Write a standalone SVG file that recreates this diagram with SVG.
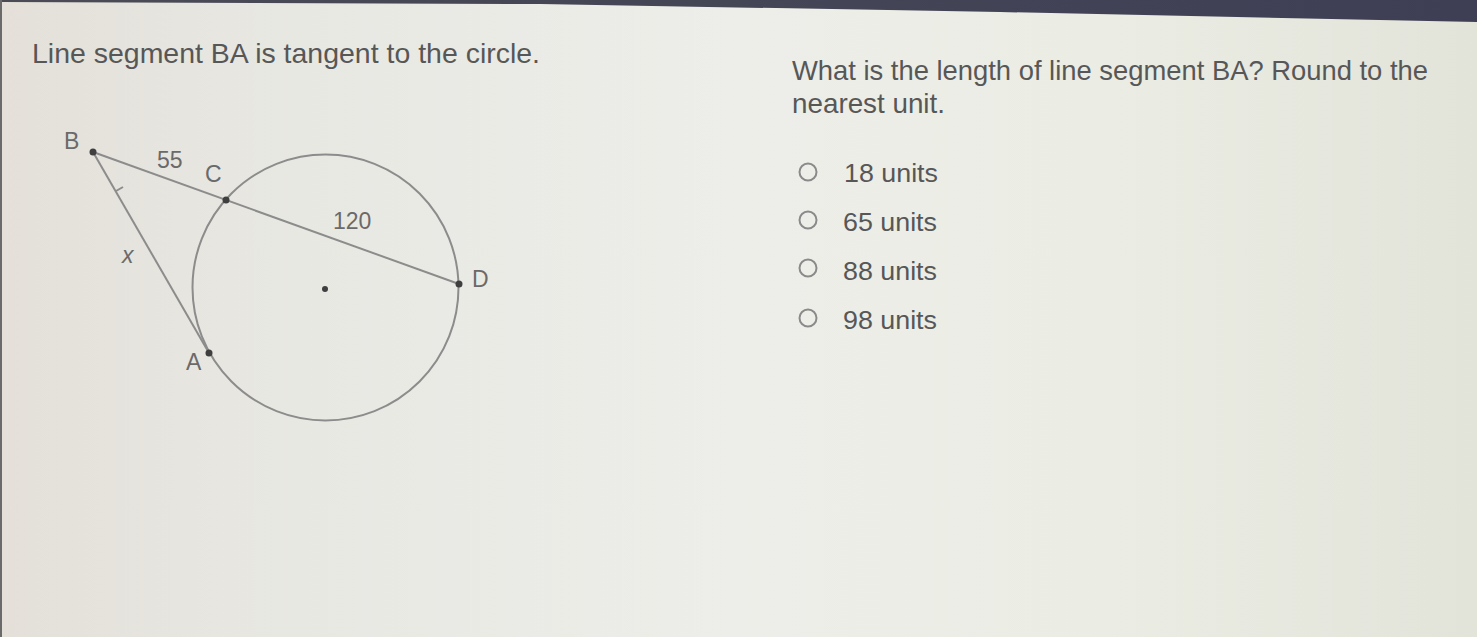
<svg xmlns="http://www.w3.org/2000/svg" width="1477" height="637" viewBox="0 0 1477 637">
  <defs>
    <linearGradient id="bg" x1="0" y1="0" x2="1" y2="0">
      <stop offset="0" stop-color="#e4e0d9"/>
      <stop offset="0.2" stop-color="#e8e8e3"/>
      <stop offset="0.5" stop-color="#edeee9"/>
      <stop offset="0.75" stop-color="#ebece3"/>
      <stop offset="1" stop-color="#e2e3d9"/>
    </linearGradient>
    <linearGradient id="bar" x1="0" y1="0" x2="1" y2="0">
      <stop offset="0" stop-color="#4a4b55"/>
      <stop offset="1" stop-color="#3e3f55"/>
    </linearGradient>
  </defs>
  <style>
    .txt { font-family: "Liberation Sans", Arial, sans-serif; fill: #575757; }
    .q { font-size: 28px; }
    .opt { font-size: 26px; }
    .lbl { font-family: "Liberation Sans", Arial, sans-serif; font-size: 23px; fill: #6a6a6a; }
    .geo { fill: none; stroke: #8c8c8c; stroke-width: 2; }
    .dot { fill: #3f3f3f; }
    .radio { fill: none; stroke: #8a8a8a; stroke-width: 2; }
  </style>
  <rect x="0" y="0" width="1477" height="637" fill="url(#bg)"/>
  <polygon points="0,0 1477,0 1477,22 1000,12 540,4 0,2" fill="url(#bar)"/>
  <rect x="0" y="0" width="2" height="637" fill="#6a6a6a"/>

  <g id="title-left">
    <text class="txt q" x="32" y="63" textLength="508" lengthAdjust="spacingAndGlyphs">Line segment BA is tangent to the circle.</text>
  </g>
  <g id="question">
    <text class="txt q" x="792" y="80" textLength="636" lengthAdjust="spacingAndGlyphs">What is the length of line segment BA? Round to the</text>
    <text class="txt q" x="792" y="113" textLength="153" lengthAdjust="spacingAndGlyphs">nearest unit.</text>
  </g>

  <g id="options">
    <g id="opt1"><circle class="radio" cx="808" cy="172" r="8.5"/><text class="txt opt" x="844" y="182" textLength="94" lengthAdjust="spacingAndGlyphs">18 units</text></g>
    <g id="opt2"><circle class="radio" cx="808" cy="220" r="8.5"/><text class="txt opt" x="843" y="231" textLength="94" lengthAdjust="spacingAndGlyphs">65 units</text></g>
    <g id="opt3"><circle class="radio" cx="808" cy="268" r="8.5"/><text class="txt opt" x="843" y="280" textLength="94" lengthAdjust="spacingAndGlyphs">88 units</text></g>
    <g id="opt4"><circle class="radio" cx="808" cy="318" r="8.5"/><text class="txt opt" x="843" y="329" textLength="94" lengthAdjust="spacingAndGlyphs">98 units</text></g>
  </g>

  <g id="connectors">
    <line class="geo" x1="93" y1="152" x2="459" y2="284"/>
    <line class="geo" x1="93" y1="152" x2="209" y2="353"/>
    <line class="geo" x1="116" y1="191" x2="123" y2="187" stroke-width="1.5"/>
  </g>

  <g id="circle">
    <circle class="geo" cx="325.5" cy="287.5" r="133"/>
    <circle class="dot" cx="325" cy="289" r="3"/>
  </g>

  <g id="point-B"><circle class="dot" cx="93" cy="152" r="3.5"/><text class="lbl" x="64" y="149">B</text></g>
  <g id="point-C"><circle class="dot" cx="226" cy="200" r="3.5"/><text class="lbl" x="205" y="182">C</text></g>
  <g id="point-D"><circle class="dot" cx="459" cy="284" r="3.5"/><text class="lbl" x="472" y="287">D</text></g>
  <g id="point-A"><circle class="dot" cx="209" cy="353" r="3.5"/><text class="lbl" x="186" y="370">A</text></g>

  <g id="labels">
    <text class="lbl" x="157" y="168">55</text>
    <text class="lbl" x="333" y="229">120</text>
    <text class="lbl" x="122" y="263" font-style="italic">x</text>
  </g>
</svg>
